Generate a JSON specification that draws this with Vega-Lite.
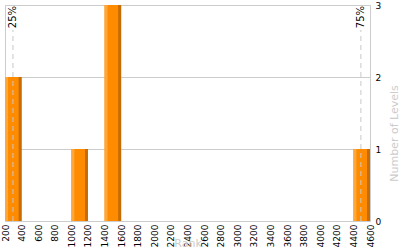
{
  "$schema": "https://vega.github.io/schema/vega-lite/v6.json",
  "width": 365,
  "height": 216,
  "autosize": "none",
  "padding": {"left": 5, "top": 5, "right": 30, "bottom": 29},
  "config": {
    "view": {"stroke": "#cccccc", "strokeWidth": 1},
    "font": "DejaVu Sans",
    "axisX": {"labelOverlap": false, "labelFlush": false, "labelBound": false}
  },
  "datasets": {
    "bins": [
      {"start": 200, "end": 400, "count": 2},
      {"start": 1000, "end": 1200, "count": 1},
      {"start": 1400, "end": 1600, "count": 3},
      {"start": 4400, "end": 4600, "count": 1}
    ],
    "pct": [
      {"label": "25%", "value": 296},
      {"label": "75%", "value": 4490}
    ]
  },
  "encoding": {
    "x": {
      "type": "quantitative",
      "scale": {"domain": [200, 4600], "nice": false, "zero": false},
      "axis": {
        "values": [200,400,600,800,1000,1200,1400,1600,1800,2000,2200,2400,2600,2800,3000,3200,3400,3600,3800,4000,4200,4400,4600],
        "format": "d",
        "grid": false, "ticks": false, "domain": false,
        "labelAngle": 270, "labelAlign": "right", "labelBaseline": "middle",
        "labelPadding": 3, "labelFontSize": 9, "labelColor": "#000000",
        "labelOverlap": false, "labelFlush": false,
        "title": "Rank", "titleColor": "#cccccc", "titleFontSize": 11,
        "titleFontWeight": "normal", "titleY": 22, "titleBaseline": "middle"
      }
    }
  },
  "layer": [
    {
      "data": {"name": "bins"},
      "mark": {"type": "bar", "color": "#ff8c00"},
      "encoding": {
        "x": {"field": "start", "type": "quantitative"},
        "x2": {"field": "end"},
        "y": {
          "field": "count", "type": "quantitative",
          "scale": {"domain": [0, 3], "nice": false},
          "axis": {
            "orient": "right", "values": [0, 1, 2, 3], "format": "d",
            "grid": true, "gridColor": "#cccccc", "ticks": false, "domain": false,
            "labelPadding": 5, "labelFontSize": 9, "labelColor": "#000000",
            "title": "Number of Levels", "titleColor": "#cccccc", "titleFontSize": 11,
            "titleFontWeight": "normal", "titleAngle": 270, "titleX": 24, "titleY": 128,
            "titleBaseline": "middle", "titleAlign": "center"
          }
        },
        "y2": {"datum": 0}
      }
    },
    {
      "data": {"name": "bins"},
      "mark": {"type": "bar", "color": "#ffa73a", "x2Offset": 3},
      "encoding": {
        "x": {"field": "start", "type": "quantitative"},
        "x2": {"field": "start"},
        "y": {"field": "count", "type": "quantitative"},
        "y2": {"datum": 0}
      }
    },
    {
      "data": {"name": "bins"},
      "mark": {"type": "bar", "color": "#c86c00", "xOffset": -3},
      "encoding": {
        "x": {"field": "end", "type": "quantitative"},
        "x2": {"field": "end"},
        "y": {"field": "count", "type": "quantitative"},
        "y2": {"datum": 0}
      }
    },
    {
      "data": {"name": "pct"},
      "mark": {"type": "rule", "color": "#c8c8c8", "strokeDash": [5, 4], "y2Offset": 25},
      "encoding": {
        "x": {"field": "value", "type": "quantitative"},
        "y": {"datum": 0},
        "y2": {"datum": 3}
      }
    },
    {
      "data": {"name": "pct"},
      "mark": {"type": "text", "angle": 270, "align": "right", "baseline": "middle", "fontSize": 10, "color": "#000000", "yOffset": 1},
      "encoding": {
        "x": {"field": "value", "type": "quantitative"},
        "y": {"datum": 3},
        "text": {"field": "label"}
      }
    }
  ]
}
